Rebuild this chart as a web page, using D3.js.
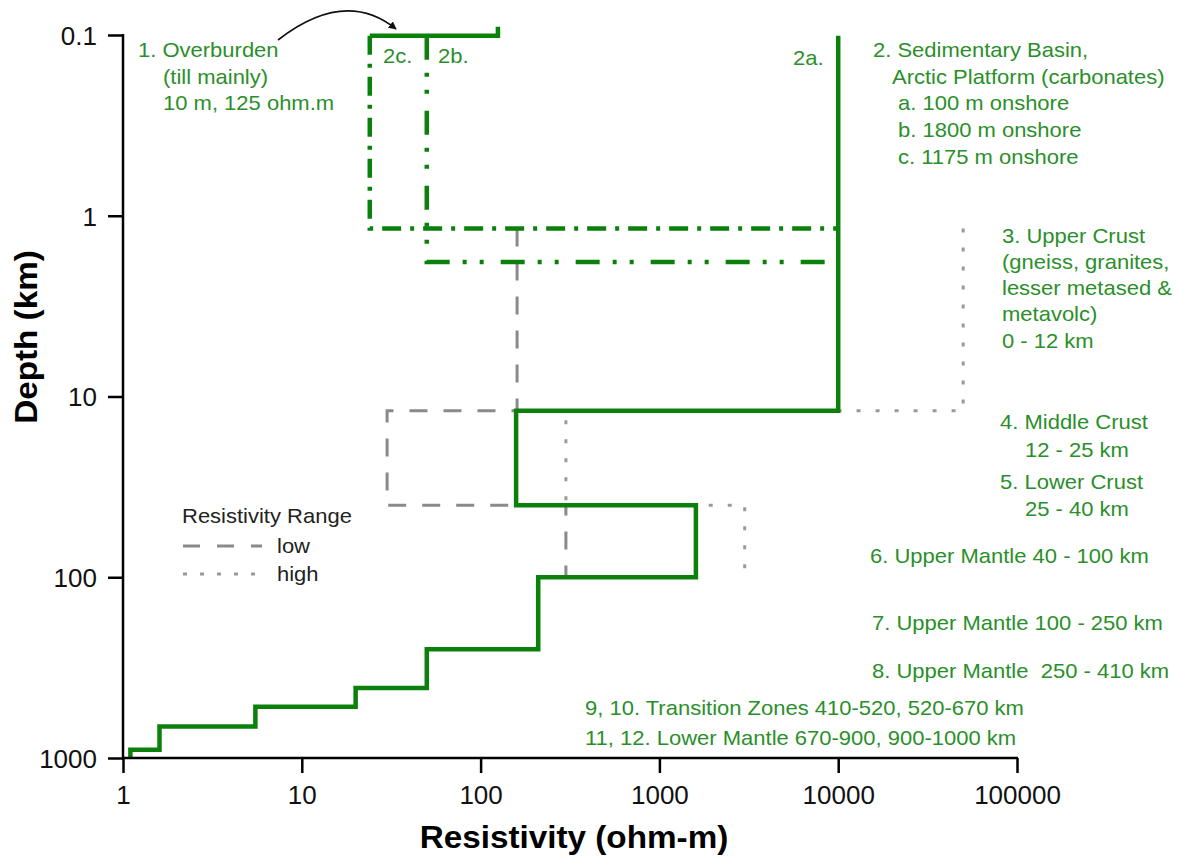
<!DOCTYPE html>
<html>
<head>
<meta charset="utf-8">
<script src="https://cdn.jsdelivr.net/npm/d3@7"></script>
<style>
  body { margin: 0; background: #fff; }
  svg { font-family: Arial, "Liberation Sans", sans-serif; }
  .note { fill: #2a8f2a; font-size: 20px; }
</style>
</head>
<body>
<div id="chart"></div>
<script>
// resistivity vs depth profile

var width = 1180;
var height = 857;

// main (solid) profile: layer boundaries in km and resistivity per layer
var layerDepths = [0.1, 12, 40, 100, 250, 410, 520, 670, 900, 1000];
var layerRes = [10000, 158, 1600, 210, 50, 20, 5.5, 1.6, 1.1];

// overburden (till), 125 ohm.m
var overRes = 125;
var overDepths = [0.09, 0.101];

// sedimentary basin variants 2b / 2c
var sedNames = ["2b", "2c"];
var sedRes = [50, 24];
var sedBase = [1.8, 1.175];
var sedRight = 10000;

// resistivity range, low and high
var rangeDepths = [1.175, 12, 40, 100];
var lowRes = [160, 30, 300];
var highRes = [50000, 300, 3000];

var xTicks = [1, 10, 100, 1000, 10000, 100000];
var yTicks = [0.1, 1, 10, 100, 1000];

var green = "#0b800b";
var stretch = 1.1;   // text in the original is a bit wide

var x = d3.scaleLog().domain([1, 100000]).range([123, 1017]);
var y = d3.scaleLog().domain([0.1, 1000]).range([35, 758]);

var svg = d3.select("#chart").append("svg")
    .attr("width", width)
    .attr("height", height);

var line = d3.line()
    .x(function(d) { return x(d[0]); })
    .y(function(d) { return y(d[1]); });

// make step points from layers
function steps(depths, res) {
    var pts = [];
    for (var i = 0; i < res.length; i++) {
        pts.push([res[i], depths[i]]);
        pts.push([res[i], depths[i + 1]]);
    }
    return pts;
}

// gray range lines first
svg.append("path")
    .attr("d", line(steps(rangeDepths, lowRes)))
    .attr("fill", "none")
    .attr("stroke", "#8a8a8a")
    .attr("stroke-width", 3)
    .attr("stroke-dasharray", "18,16");

svg.append("path")
    .attr("d", line(steps(rangeDepths, highRes)))
    .attr("fill", "none")
    .attr("stroke", "#9a9a9a")
    .attr("stroke-width", 3)
    .attr("stroke-dasharray", "4,15");

// 2b dash-dot-dot, 2c dash-dot
var sedDash = ["24,13,4,13,4,17", "19,9,4,9"];
sedNames.forEach(function(n, i) {
    var pts = [[sedRes[i], 0.101], [sedRes[i], sedBase[i]], [sedRight, sedBase[i]]];
    svg.append("path")
        .attr("d", line(pts))
        .attr("fill", "none")
        .attr("stroke", green)
        .attr("stroke-width", 4.5)
        .attr("stroke-dasharray", sedDash[i]);
});

// overburden
svg.append("path")
    .attr("d", line([[overRes, overDepths[0]], [overRes, overDepths[1]], [sedRes[1], overDepths[1]]]))
    .attr("fill", "none")
    .attr("stroke", green)
    .attr("stroke-width", 4.5);

// main profile
svg.append("path")
    .attr("d", line(steps([0.101].concat(layerDepths.slice(1)), layerRes)))
    .attr("fill", "none")
    .attr("stroke", green)
    .attr("stroke-width", 4.5);

// axes
var xAxis = d3.axisBottom(x)
    .tickValues(xTicks)
    .tickSize(15)
    .tickFormat(d3.format("d"));
var xMinor = [];
for (var e = 0; e < 5; e++) {
    for (var m = 2; m < 10; m++) xMinor.push(m * Math.pow(10, e));
}
var yMinor = [];
for (var e2 = -1; e2 < 3; e2++) {
    for (var m2 = 2; m2 < 10; m2++) yMinor.push(m2 * Math.pow(10, e2));
}

var gx = svg.append("g")
    .attr("transform", "translate(0," + 758 + ")");
gx.call(d3.axisBottom(x).tickValues(xMinor).tickSize(9).tickFormat(""));
gx.call(xAxis);
gx.selectAll("path.domain").remove();
gx.append("line").attr("x1", 122).attr("x2", 1018).attr("stroke", "#000").attr("stroke-width", 2.5);
gx.selectAll(".tick line").attr("stroke", "#000").attr("stroke-width", 2.5);
gx.selectAll(".tick text")
    .attr("y", 28)
    .attr("fill", "#111")
    .style("font-size", "26px")
    .style("font-family", "Arial, 'Liberation Sans', sans-serif");

var gy = svg.append("g")
    .attr("transform", "translate(" + 123 + ",0)");
gy.call(d3.axisLeft(y).tickValues(yMinor).tickSize(9).tickFormat(""));
gy.call(d3.axisLeft(y).tickValues(yTicks).tickSize(15)
    .tickFormat(function(d) { return d < 1 ? "0.1" : d3.format("d")(d); }));
gy.selectAll("path.domain").remove();
gy.append("line").attr("y1", 34).attr("y2", 759).attr("stroke", "#000").attr("stroke-width", 2.5);
gy.selectAll(".tick line").attr("stroke", "#000").attr("stroke-width", 2.5);
gy.selectAll(".tick text")
    .attr("x", -26)
    .attr("dy", "0.36em")
    .attr("fill", "#111")
    .style("font-size", "26px")
    .style("font-family", "Arial, 'Liberation Sans', sans-serif");

// axis titles
svg.append("text")
    .attr("transform", "translate(574,848) scale(1.04,1)")
    .attr("text-anchor", "middle")
    .style("font-size", "32px").style("font-weight", "bold")
    .text("Resistivity (ohm-m)");

svg.append("text")
    .attr("transform", "translate(37,337) rotate(-90) scale(1.04,1)")
    .attr("text-anchor", "middle")
    .style("font-size", "32px").style("font-weight", "bold")
    .text("Depth (km)");

// annotation text
var notes = [
    [138, 57, "1. Overburden"], [163, 84, "(till mainly)"], [163, 110, "10 m, 125 ohm.m"],
    [383, 63, "2c."], [438, 63, "2b."], [793, 65, "2a."],
    [873, 57, "2. Sedimentary Basin,"], [892, 84, "Arctic Platform (carbonates)"],
    [898, 110, "a. 100 m onshore"], [898, 137, "b. 1800 m onshore"], [898, 164, "c. 1175 m onshore"],
    [1002, 243, "3. Upper Crust"], [1002, 269, "(gneiss, granites,"], [1002, 295, "lesser metased &"],
    [1002, 321, "metavolc)"], [1002, 348, "0 - 12 km"],
    [1000, 429, "4. Middle Crust"], [1025, 457, "12 - 25 km"],
    [1000, 489, "5. Lower Crust"], [1025, 516, "25 - 40 km"],
    [870, 563, "6. Upper Mantle 40 - 100 km"],
    [872, 630, "7. Upper Mantle 100 - 250 km"],
    [872, 678, "8. Upper Mantle  250 - 410 km"],
    [585, 715, "9, 10. Transition Zones 410-520, 520-670 km"],
    [585, 745, "11, 12. Lower Mantle 670-900, 900-1000 km"]
];

svg.selectAll("text.note")
    .data(notes)
  .enter().append("text")
    .attr("class", "note")
    .attr("transform", function(d) {
        return "translate(" + d[0] + "," + d[1] + ") scale(" + stretch + ",1)"; })
    .style("white-space", "pre")
    .attr("xml:space", "preserve")
    .text(function(d) { return d[2]; });

// arrow from overburden label to the top
svg.append("defs").append("marker")
    .attr("id", "head")
    .attr("viewBox", "0 0 10 10")
    .attr("refX", 9).attr("refY", 5)
    .attr("markerWidth", 8).attr("markerHeight", 8)
    .attr("markerUnits", "userSpaceOnUse")
    .attr("orient", "auto")
  .append("path")
    .attr("d", "M0,0 L10,5 L0,10 z")
    .attr("fill", "#111");
svg.append("path")
    .attr("d", "M278,40 Q345,-12 396,29")
    .attr("fill", "none")
    .attr("stroke", "#111")
    .attr("stroke-width", 1.6)
    .attr("marker-end", "url(#head)");

// legend
var legend = svg.append("g");
legend.append("text")
    .attr("transform", "translate(182,523) scale(" + stretch + ",1)")
    .attr("fill", "#222").style("font-size", "20px")
    .text("Resistivity Range");
var legendItems = [["low", "#8a8a8a", "17,17"], ["high", "#9a9a9a", "4,13"]];
legendItems.forEach(function(d, i) {
    var ly = 546 + i * 28;
    legend.append("line")
        .attr("x1", 183).attr("x2", i == 0 ? 262 : 256)
        .attr("y1", ly).attr("y2", ly)
        .attr("stroke", d[1]).attr("stroke-width", 3)
        .attr("stroke-dasharray", d[2]);
    legend.append("text")
        .attr("transform", "translate(277," + (ly + 7) + ") scale(" + stretch + ",1)")
        .attr("fill", "#222").style("font-size", "20px")
        .text(d[0]);
});
</script>
</body>
</html>
